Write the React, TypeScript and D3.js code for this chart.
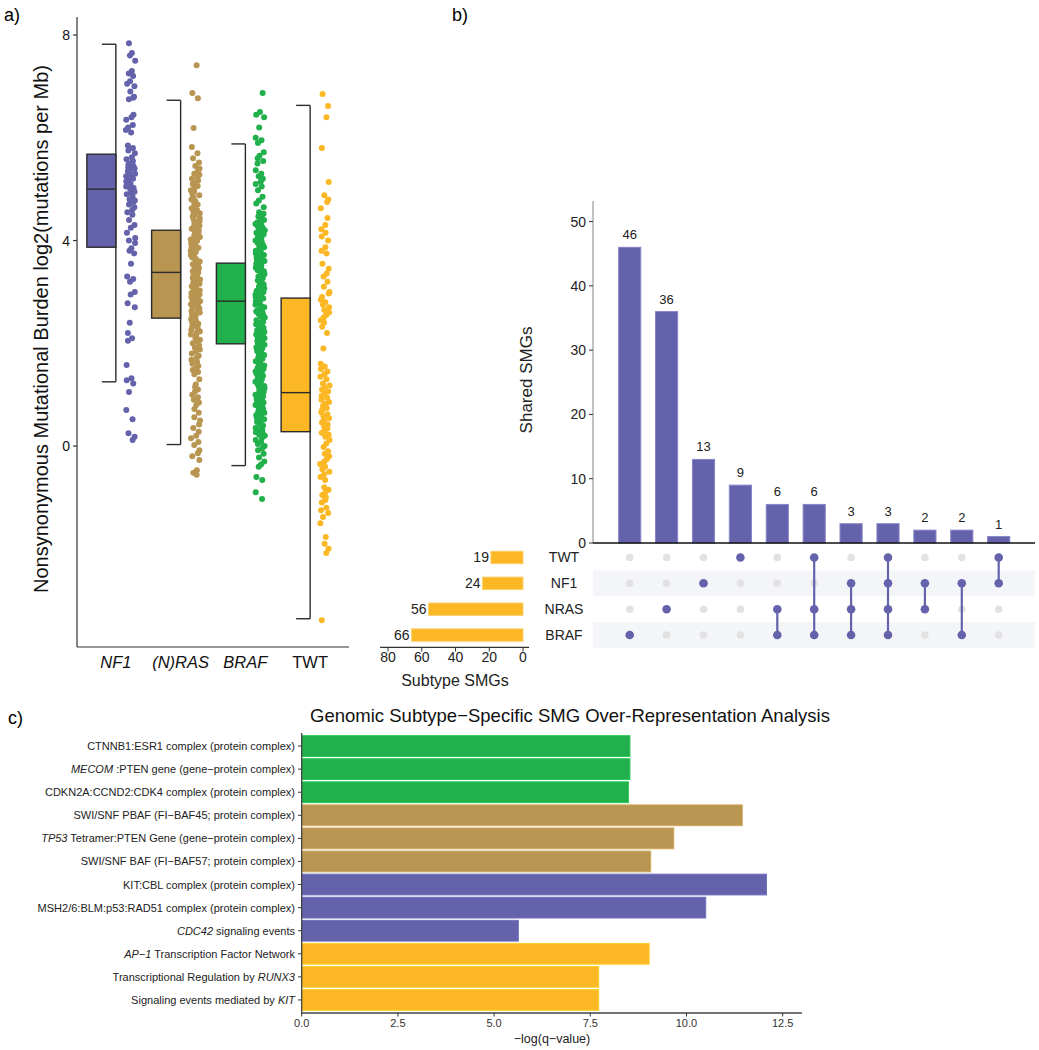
import React from "react";
import * as d3 from "d3";

const FONT = "'Liberation Sans', Arial, Helvetica, sans-serif";

// ---------- Panel a data ----------
const subtypes = ["NF1", "(N)RAS", "BRAF", "TWT"];
const subtypeItalic = [true, true, true, false];
const subtypeColors = ["#6462aa", "#b89550", "#21b04b", "#fbb724"];
// [lower whisker, q1, median, q3, upper whisker]
const boxStats = [
  [1.25, 3.87, 5.0, 5.68, 7.82],
  [0.03, 2.49, 3.38, 4.2, 6.73],
  [-0.38, 1.99, 2.82, 3.56, 5.88],
  [-3.36, 0.28, 1.04, 2.88, 6.63],
];
const burdenTicks = [0, 4, 8];

const nf1Burden = [7.84, 7.65, 7.6, 7.5, 7.3, 7.25, 7.2, 7.1, 7.05, 7.0, 6.9, 6.8, 6.78, 6.75, 6.45, 6.4, 6.35, 6.25, 6.2, 6.15, 6.1, 5.85, 5.8, 5.75, 5.7, 5.62, 5.58, 5.55, 5.5, 5.48, 5.45, 5.42, 5.4, 5.38, 5.35, 5.3, 5.28, 5.25, 5.2, 5.18, 5.15, 5.1, 5.05, 5.02, 5.0, 4.95, 4.92, 4.9, 4.85, 4.8, 4.78, 4.75, 4.7, 4.65, 4.6, 4.55, 4.5, 4.4, 4.3, 4.25, 4.15, 4.05, 4.0, 3.95, 3.85, 3.8, 3.75, 3.55, 3.3, 3.25, 3.2, 3.0, 2.95, 2.78, 2.7, 2.4, 2.2, 2.1, 2.05, 1.58, 1.32, 1.28, 1.22, 1.05, 0.7, 0.52, 0.25, 0.18, 0.12];

const rasBurden = [7.41, 6.87, 6.77, 6.19, 5.82, 5.7, 5.6, 5.52, 5.45, 5.4, 5.35, 5.3,
  5.28, 5.24, 5.2, 5.17, 5.13, 5.1, 5.06, 5.02, 4.98, 4.95, 4.91, 4.88, 4.84, 4.8, 4.77, 4.73, 4.7, 4.66, 4.63, 4.6, 4.56, 4.53, 4.5, 4.47, 4.44, 4.41, 4.38, 4.35, 4.32, 4.29, 4.26, 4.23, 4.2, 4.18, 4.15, 4.12, 4.1, 4.07, 4.04, 4.02, 3.99, 3.96, 3.94, 3.91, 3.88, 3.86, 3.83, 3.8, 3.78, 3.75, 3.72, 3.7, 3.67, 3.64, 3.62, 3.59, 3.56, 3.54, 3.51, 3.48, 3.46, 3.43, 3.4, 3.38, 3.35, 3.32, 3.3, 3.27, 3.24, 3.22, 3.19, 3.16, 3.14, 3.11, 3.08, 3.06, 3.03, 3.0, 2.98, 2.95, 2.92, 2.9, 2.87, 2.84, 2.82, 2.79, 2.76, 2.74, 2.71, 2.68, 2.66, 2.63, 2.6, 2.58, 2.55, 2.52, 2.5, 2.47, 2.44, 2.41, 2.38, 2.35, 2.32, 2.29, 2.26, 2.23, 2.2, 2.17, 2.14, 2.1, 2.07, 2.04, 2.0, 1.96, 1.92, 1.88, 1.84, 1.8, 1.76, 1.72, 1.68, 1.64, 1.6, 1.56, 1.52, 1.48, 1.44, 1.4,
  1.3, 1.2, 1.15, 1.1, 1.05, 1.0, 0.95, 0.9, 0.85, 0.8, 0.72, 0.65, 0.56, 0.5, 0.42, 0.35, 0.28, 0.2, 0.15, 0.08, 0.02, -0.08, -0.14, -0.2, -0.27, -0.47, -0.52, -0.56];

const brafBurden = [6.87, 6.5, 6.45, 6.4, 6.2, 6.0, 5.95, 5.9, 5.72, 5.65, 5.6, 5.55, 5.5, 5.37, 5.3, 5.25, 5.2, 5.15, 5.1, 5.05, 4.98, 4.85, 4.78, 4.72, 4.65,
  4.55, 4.52, 4.5, 4.47, 4.45, 4.42, 4.4, 4.37, 4.35, 4.32, 4.3, 4.27, 4.25, 4.22, 4.2, 4.17, 4.15, 4.12, 4.1, 4.07, 4.05, 4.02, 4.0, 3.97, 3.95, 3.92, 3.9, 3.87, 3.85, 3.82, 3.8, 3.77, 3.75, 3.72, 3.7, 3.67, 3.65, 3.62, 3.6, 3.57, 3.55, 3.52, 3.5, 3.47, 3.45, 3.42, 3.4, 3.37, 3.35, 3.32, 3.3, 3.27, 3.25, 3.22, 3.2, 3.17, 3.15, 3.12, 3.1, 3.07, 3.05, 3.02, 3.0, 2.97, 2.95, 2.92, 2.9, 2.87, 2.85, 2.82, 2.8, 2.77, 2.75, 2.72, 2.7, 2.67, 2.65, 2.62, 2.6, 2.57, 2.55, 2.52, 2.5, 2.47, 2.45, 2.42, 2.4, 2.37, 2.35, 2.32, 2.3, 2.27, 2.25, 2.22, 2.2, 2.17, 2.15, 2.12, 2.1, 2.07, 2.05, 2.02, 2.0, 1.97, 1.95, 1.92, 1.9, 1.87, 1.85, 1.82, 1.8, 1.77, 1.75, 1.72, 1.7, 1.67, 1.65, 1.62, 1.6, 1.57, 1.55, 1.52, 1.5, 1.47, 1.45, 1.42, 1.4, 1.37, 1.35, 1.32, 1.3, 1.27, 1.25, 1.22, 1.2, 1.17, 1.15, 1.12, 1.1, 1.07, 1.05, 1.02, 1.0, 0.97, 0.95, 0.92, 0.9, 0.87, 0.85, 0.82, 0.8, 0.77, 0.75, 0.72, 0.7, 0.67, 0.65, 0.62, 0.6, 0.57, 0.55, 0.52, 0.5, 0.47, 0.45, 0.42, 0.4, 0.37, 0.35, 0.32, 0.3, 0.27, 0.25, 0.22, 0.2, 0.16, 0.12, 0.08, 0.04, 0.0, -0.04, -0.08,
  -0.15, -0.22, -0.3, -0.36, -0.4, -0.6, -0.66, -0.9, -1.03];

const twtBurden = [6.85, 6.62, 6.4, 5.8, 5.14, 4.88, 4.8, 4.75, 4.63, 4.44, 4.3, 4.22, 4.15, 4.08, 4.0, 3.87, 3.8, 3.75, 3.55, 3.45, 3.36, 3.3, 3.2, 3.1, 3.0, 2.97, 2.9, 2.85, 2.8, 2.75, 2.7, 2.65, 2.6, 2.55, 2.5, 2.45, 2.4, 2.32, 2.2, 1.9, 1.6, 1.55, 1.5, 1.45, 1.4, 1.35, 1.3, 1.22,
  1.18, 1.14, 1.1, 1.06, 1.02, 0.98, 0.94, 0.9, 0.86, 0.82, 0.78, 0.74, 0.7, 0.66, 0.62, 0.58, 0.54, 0.5, 0.46, 0.42, 0.38, 0.34, 0.3, 0.26, 0.22, 0.18,
  0.12, 0.05, -0.02, -0.1, -0.15, -0.2, -0.25, -0.3, -0.35, -0.4, -0.45, -0.5, -0.55, -0.6, -0.66, -0.8, -0.85, -0.9, -0.95, -1.0, -1.05, -1.1, -1.2, -1.25, -1.3, -1.38, -1.5, -1.77, -1.9, -2.0, -2.08, -3.39];

const burdenBySubtype = [nf1Burden, rasBurden, brafBurden, twtBurden];

// ---------- Panel b data ----------
const setNames = ["TWT", "NF1", "NRAS", "BRAF"];
const setSizes = [19, 24, 56, 66];
const intersectionCounts = [46, 36, 13, 9, 6, 6, 3, 3, 2, 2, 1];
const intersectionSets = [
  ["BRAF"], ["NRAS"], ["NF1"], ["TWT"], ["NRAS", "BRAF"], ["TWT", "NRAS", "BRAF"],
  ["NF1", "NRAS", "BRAF"], ["TWT", "NF1", "NRAS", "BRAF"], ["NF1", "NRAS"], ["NF1", "BRAF"], ["TWT", "NF1"],
];
const sharedTicks = [0, 10, 20, 30, 40, 50];
const subtypeSmgTicks = [0, 20, 40, 60, 80];

// ---------- Panel c data ----------
const pathwayLabels = [
  "CTNNB1:ESR1 complex (protein complex)",
  "*MECOM* :PTEN gene (gene\u2212protein complex)",
  "CDKN2A:CCND2:CDK4 complex (protein complex)",
  "SWI/SNF PBAF (FI\u2212BAF45; protein complex)",
  "*TP53* Tetramer:PTEN Gene (gene\u2212protein complex)",
  "SWI/SNF BAF (FI\u2212BAF57; protein complex)",
  "KIT:CBL complex (protein complex)",
  "MSH2/6:BLM:p53:RAD51 complex (protein complex)",
  "*CDC42* signaling events",
  "*AP\u22121* Transcription Factor Network",
  "Transcriptional Regulation by *RUNX3*",
  "Signaling events mediated by *KIT*",
];
const pathwayValues = [8.53, 8.53, 8.49, 11.45, 9.67, 9.07, 12.08, 10.5, 5.63, 9.03, 7.72, 7.72];
const pathwaySubtype = ["BRAF", "BRAF", "BRAF", "(N)RAS", "(N)RAS", "(N)RAS", "NF1", "NF1", "NF1", "TWT", "TWT", "TWT"];
const qTicks = [0, 2.5, 5, 7.5, 10, 12.5];

const PURPLE = "#6462aa";
const ORANGE = "#fbb724";

// deterministic horizontal spread for the strip points (layout only)
function jitter(i: number, seed: number) {
  const s = Math.sin((i + 1) * 12.9898 + seed * 78.233) * 43758.5453;
  const noise = s - Math.floor(s);
  const g = (i * 0.6180339887 + seed * 0.37 + noise * 0.35) % 1;
  return g;
}

function renderLabel(label: string) {
  return label.split("*").map((p, i) =>
    p ? (
      <tspan key={i} fontStyle={i % 2 === 1 ? "italic" : "normal"}>
        {p}
      </tspan>
    ) : null
  );
}

function PanelA() {
  const y = d3.scaleLinear().domain([-3.91, 8.35]).range([647, 17]);
  const x = d3.scalePoint<string>().domain(subtypes).range([77, 349]).padding(0.6);
  return (
    <g>
      <text x={4} y={21} fontSize={18} fontFamily={FONT}>a)</text>
      {/* points */}
      {burdenBySubtype.map((vals, gi) => {
        const c = x(subtypes[gi])!;
        return vals.map((v, i) => (
          <circle key={`p${gi}-${i}`} cx={c + 10 + jitter(i, gi) * 9.5} cy={y(v)} r={3} fill={subtypeColors[gi]} />
        ));
      })}
      {/* boxes */}
      {boxStats.map((s, gi) => {
        const c = x(subtypes[gi])!;
        const [lo, q1, med, q3, hi] = s;
        return (
          <g key={`b${gi}`} stroke="#2b2b2b" strokeWidth={1.4}>
            <line x1={c} x2={c} y1={y(hi)} y2={y(lo)} />
            <line x1={c - 14} x2={c} y1={y(hi)} y2={y(hi)} />
            <line x1={c - 14} x2={c} y1={y(lo)} y2={y(lo)} />
            <rect x={c - 29} width={29} y={y(q3)} height={y(q1) - y(q3)} fill={subtypeColors[gi]} />
            <line x1={c - 29} x2={c} y1={y(med)} y2={y(med)} />
          </g>
        );
      })}
      {/* axes */}
      <line x1={77} x2={77} y1={17} y2={647} stroke="#333" strokeWidth={1.2} />
      <line x1={77} x2={349} y1={647} y2={647} stroke="#333" strokeWidth={1.2} />
      {burdenTicks.map((t) => (
        <g key={`t${t}`}>
          <line x1={73} x2={77} y1={y(t)} y2={y(t)} stroke="#333" strokeWidth={1.2} />
          <text x={70} y={y(t) + 5} fontSize={14} textAnchor="end" fontFamily={FONT} fill="#111">{t}</text>
        </g>
      ))}
      {subtypes.map((s, i) => (
        <text key={`xl${i}`} x={x(s)!} y={668} fontSize={16.5} textAnchor="middle" fontFamily={FONT}
          fontStyle={subtypeItalic[i] ? "italic" : "normal"} fill="#111">{s}</text>
      ))}
      <text transform={`translate(48,329) rotate(-90)`} fontSize={20} textAnchor="middle" fontFamily={FONT} fill="#111">
        Nonsynonymous Mutational Burden log2(mutations per Mb)
      </text>
    </g>
  );
}

function PanelB() {
  const xb = d3.scaleBand<number>().domain(d3.range(intersectionCounts.length))
    .range([611.25, 1017.15]).paddingInner(0.4).paddingOuter(0.2);
  const yb = d3.scaleLinear().domain([0, 53.2]).range([543, 201]);
  const rows = d3.scaleBand<string>().domain(setNames).range([544.5, 648]);
  const rowBars = d3.scaleBand<string>().domain(setNames).range([544.5, 648]).paddingInner(0.52).paddingOuter(0.26);
  const xs = d3.scaleLinear().domain([0, 80]).range([523, 388]);
  const rc = (n: string) => rows(n)! + rows.bandwidth() / 2;
  return (
    <g fontFamily={FONT}>
      <text x={452} y={21} fontSize={18}>b)</text>
      {/* stripes */}
      {setNames.map((n, i) => i % 2 === 1 ? (
        <rect key={`s${n}`} x={593} width={442} y={rows(n)!} height={rows.bandwidth()} fill="#f4f5f9" />
      ) : null)}
      {/* intersection bars */}
      {intersectionCounts.map((v, i) => (
        <g key={`ib${i}`}>
          <rect x={xb(i)!} width={xb.bandwidth()} y={yb(v)} height={yb(0) - yb(v)} fill={PURPLE} stroke="#8785c8" strokeWidth={1} />
          <text x={xb(i)! + xb.bandwidth() / 2} y={yb(v) - 8} fontSize={13} textAnchor="middle" fill="#222">{v}</text>
        </g>
      ))}
      <line x1={593} x2={593} y1={201} y2={543} stroke="#999" strokeWidth={1.2} />
      <line x1={593} x2={1035} y1={543} y2={543} stroke="#111" strokeWidth={1.4} />
      {sharedTicks.map((t) => (
        <g key={`st${t}`}>
          <line x1={589} x2={593} y1={yb(t)} y2={yb(t)} stroke="#333" strokeWidth={1} />
          <text x={586} y={yb(t) + 5} fontSize={14} textAnchor="end" fill="#222">{t}</text>
        </g>
      ))}
      <text transform={`translate(532,380) rotate(-90)`} fontSize={17} textAnchor="middle" fill="#222">Shared SMGs</text>
      {/* matrix */}
      {intersectionSets.map((sets, i) => {
        const cx = xb(i)! + xb.bandwidth() / 2;
        const active = setNames.filter((n) => sets.includes(n));
        const ys = active.map(rc);
        return (
          <g key={`m${i}`}>
            {setNames.map((n) => !sets.includes(n) ? (
              <circle key={n} cx={cx} cy={rc(n)} r={3.8} fill="#e2e2e2" />
            ) : null)}
            {active.length > 1 && (
              <line x1={cx} x2={cx} y1={d3.min(ys)!} y2={d3.max(ys)!} stroke={PURPLE} strokeWidth={2.2} />
            )}
            {active.map((n) => (
              <circle key={`a${n}`} cx={cx} cy={rc(n)} r={4.3} fill={PURPLE} />
            ))}
          </g>
        );
      })}
      {setNames.map((n) => (
        <text key={`sn${n}`} x={564} y={rc(n) + 5} fontSize={14} textAnchor="middle" fill="#222">{n}</text>
      ))}
      {/* set size bars */}
      {setNames.map((n, i) => (
        <g key={`sb${n}`}>
          <rect x={xs(setSizes[i])} width={xs(0) - xs(setSizes[i])} y={rowBars(n)!} height={rowBars.bandwidth()}
            fill={ORANGE} stroke="#fdd070" strokeWidth={1} />
          <text x={xs(setSizes[i]) - 2} y={rc(n) + 5} fontSize={14} textAnchor="end" fill="#222">{setSizes[i]}</text>
        </g>
      ))}
      <line x1={xs(84.7)} x2={xs(-3.6)} y1={647.3} y2={647.3} stroke="#333" strokeWidth={1.3} />
      {subtypeSmgTicks.map((t) => (
        <g key={`sst${t}`}>
          <line x1={xs(t)} x2={xs(t)} y1={647.3} y2={651.5} stroke="#333" strokeWidth={1} />
          <text x={xs(t)} y={662} fontSize={14} textAnchor="middle" fill="#222">{t}</text>
        </g>
      ))}
      <text x={455} y={686} fontSize={16} textAnchor="middle" fill="#222">Subtype SMGs</text>
    </g>
  );
}

function PanelC() {
  const yc = d3.scaleBand<number>().domain(d3.range(pathwayLabels.length))
    .range([734.5, 1011.5]).paddingInner(0.1).paddingOuter(0.05);
  const xc = d3.scaleLinear().domain([0, 13]).range([301.7, 801.9]);
  const colorOf = (s: string) => subtypeColors[subtypes.indexOf(s)];
  return (
    <g fontFamily={FONT}>
      <text x={8} y={724} fontSize={18}>c)</text>
      <text x={570} y={722} fontSize={18.5} textAnchor="middle" fill="#111">
        Genomic Subtype{"\u2212"}Specific SMG Over-Representation Analysis
      </text>
      {pathwayValues.map((v, i) => {
        const col = colorOf(pathwaySubtype[i]);
        return (
          <rect key={`pb${i}`} x={xc(0)} width={xc(v) - xc(0)} y={yc(i)!} height={yc.bandwidth()}
            fill={col} stroke={d3.color(col)!.brighter(0.35).formatHex()} strokeWidth={1} />
        );
      })}
      {pathwayLabels.map((l, i) => (
        <g key={`pl${i}`}>
          <line x1={298} x2={301.7} y1={yc(i)! + yc.bandwidth() / 2} y2={yc(i)! + yc.bandwidth() / 2} stroke="#333" strokeWidth={1} />
          <text x={295} y={yc(i)! + yc.bandwidth() / 2 + 4} fontSize={11} textAnchor="end" fill="#222">
            {renderLabel(l)}
          </text>
        </g>
      ))}
      <line x1={301.7} x2={301.7} y1={733} y2={1013} stroke="#444" strokeWidth={1.3} />
      <line x1={301.7} x2={801.9} y1={1013} y2={1013} stroke="#444" strokeWidth={1.3} />
      {qTicks.map((t) => (
        <g key={`qt${t}`}>
          <line x1={xc(t)} x2={xc(t)} y1={1013} y2={1016.5} stroke="#333" strokeWidth={1} />
          <text x={xc(t)} y={1027} fontSize={11} textAnchor="middle" fill="#333">{t.toFixed(1)}</text>
        </g>
      ))}
      <text x={552} y={1043} fontSize={12.5} textAnchor="middle" fill="#222">{"\u2212log(q\u2212value)"}</text>
    </g>
  );
}

export default function App() {
  return (
    <svg width={1039} height={1050} style={{ position: "absolute", left: 0, top: 0, background: "#fff" }}
      fontFamily={FONT}>
      <rect width={1039} height={1050} fill="#fff" />
      <PanelA />
      <PanelB />
      <PanelC />
    </svg>
  );
}
